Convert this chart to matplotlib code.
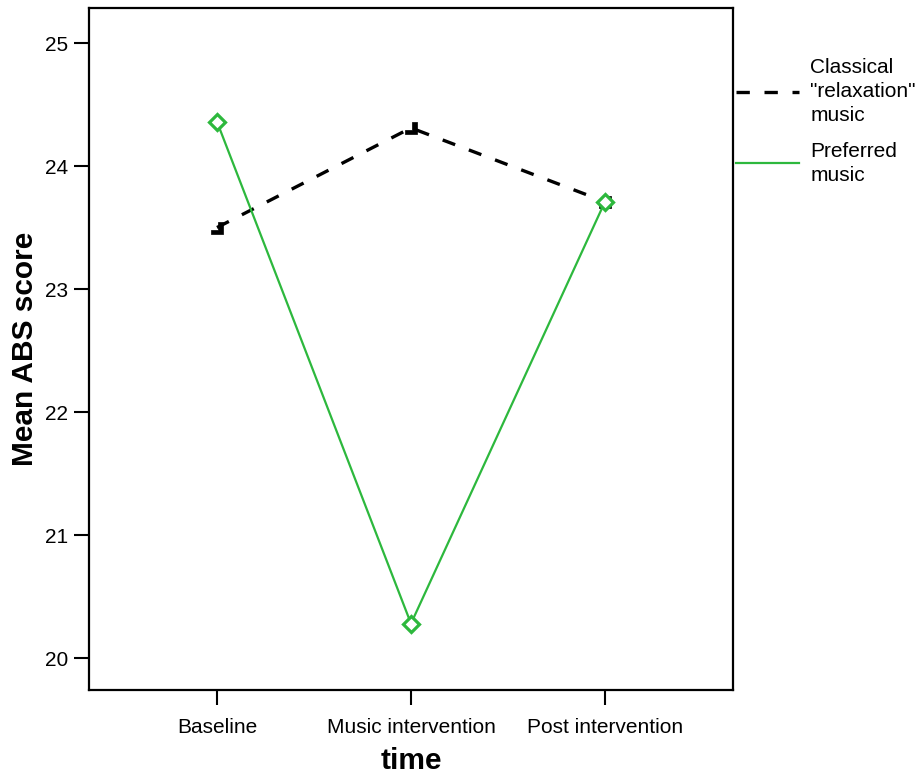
import numpy as np
import matplotlib.pyplot as plt
from matplotlib.lines import Line2D

plt.rcParams['font.family'] = ['Liberation Sans', 'DejaVu Sans']

# mean ABS score at each time point
times = ['Baseline', 'Music intervention', 'Post intervention']
classical = [23.50, 24.31, 23.71]
preferred = [24.36, 20.28, 23.71]
yticks = [20, 21, 22, 23, 24, 25]

green = '#2db83d'

fig = plt.figure(figsize=(9.18, 7.74), dpi=100)
ax = fig.add_axes([0.0969, 0.1085, 0.7016, 0.8812])

x = np.arange(len(times))
ax.plot(x, classical, color='black', lw=2.4, dashes=(4.0, 4.4),
        marker=r'$\mathbf{\lrcorner}$', ms=9, mew=0.5, zorder=3)
ax.plot(x, preferred, color=green, lw=1.6, marker='D', ms=8.5,
        mfc='white', mec=green, mew=2.3, zorder=4)

ax.set_xlim(-0.66, 2.66)
ax.set_ylim(19.74, 25.285)
ax.set_xticks(x)
ax.set_xticklabels(times)
ax.set_yticks(yticks)
ax.tick_params(direction='out', length=11, width=1.5, labelsize=15, pad=4)
ax.tick_params(axis='x', pad=9)
for s in ax.spines.values():
    s.set_linewidth(1.6)

ax.set_xlabel('time', fontsize=21.5, fontweight='bold', labelpad=7)
ax.set_ylabel('Mean ABS score', fontsize=21.5, fontweight='bold', labelpad=4)

handles = [Line2D([], [], color='black', lw=2.4, dashes=(4.0, 4.4)),
           Line2D([], [], color=green, lw=1.6)]
labels = ['Classical\n"relaxation"\nmusic', 'Preferred\nmusic']
leg = fig.legend(handles, labels, loc='upper left', bbox_to_anchor=(0.802, 0.925),
                 frameon=False, fontsize=15, handlelength=3.0, handletextpad=0.55,
                 labelspacing=0.8, borderaxespad=0, borderpad=0)
for t in leg.get_texts():
    t.set_linespacing(1.33)

fig.savefig('out.png', dpi=100)
